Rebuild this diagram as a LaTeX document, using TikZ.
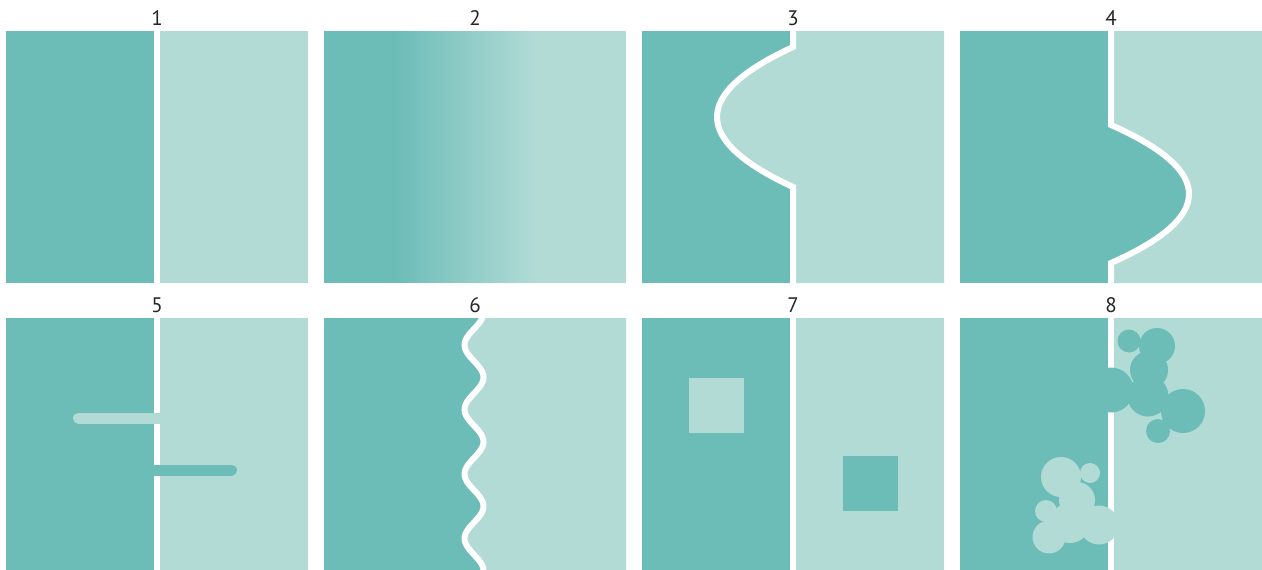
\documentclass[tikz,border=0pt]{standalone}
\usepackage{fontspec}
\setmainfont{PT Sans}
\definecolor{tdark}{RGB}{108,188,183}
\definecolor{tlight}{RGB}{178,219,214}
\tikzset{
  darkfill/.style={fill=tdark},
  lightfill/.style={fill=tlight},
  divider/.style={draw=white, line width=6pt},
  numlabel/.style={anchor=base, inner sep=0pt, font=\fontsize{21}{21}\selectfont, text=black!85}
}
\begin{document}
\begin{tikzpicture}[x=1pt,y=-1pt]
\useasboundingbox[fill=white] (0,0) rectangle (1262,570);

% labels
\node[numlabel] (l1) at (157,25) {1};
\node[numlabel] (l2) at (475,25) {2};
\node[numlabel] (l3) at (793,25) {3};
\node[numlabel] (l4) at (1111,25) {4};
\node[numlabel] (l5) at (157,312) {5};
\node[numlabel] (l6) at (475,312) {6};
\node[numlabel] (l7) at (793,312) {7};
\node[numlabel] (l8) at (1111,312) {8};

% ---------- Panel 1
\fill[darkfill] (6,31) rectangle (157,283);
\fill[lightfill] (157,31) rectangle (308,283);
\draw[divider] (157,31) -- (157,283);

% ---------- Panel 2 (gradient made of thin strips)
\fill[darkfill] (324,31) rectangle (395,283);
\fill[lightfill] (538,31) rectangle (626,283);
\foreach \i in {0,...,71} {
  \pgfmathsetmacro{\pct}{100-\i*100/71}
  \fill[tdark!\pct!tlight] ({394+\i*2},31) rectangle ({394+\i*2+2.6},283);
}

% ---------- Panel 3
\fill[darkfill] (642,31) rectangle (944,283);
\fill[lightfill] (793,31) -- (793,47) .. controls (691.7,93.7) and (691.7,140.3) .. (793,187)
  -- (793,283) -- (944,283) -- (944,31) -- cycle;
\draw[divider] (793,31) -- (793,47) .. controls (691.7,93.7) and (691.7,140.3) .. (793,187) -- (793,283);

% ---------- Panel 4
\fill[darkfill] (960,31) rectangle (1262,283);
\fill[lightfill] (1111,31) -- (1111,125) .. controls (1215,171) and (1215,217) .. (1111,263)
  -- (1111,283) -- (1262,283) -- (1262,31) -- cycle;
\draw[divider] (1111,31) -- (1111,125) .. controls (1215,171) and (1215,217) .. (1111,263) -- (1111,283);

% ---------- Panel 5
\fill[darkfill] (6,318) rectangle (157,570);
\fill[lightfill] (157,318) rectangle (308,570);
\draw[divider] (157,318) -- (157,570);
\draw[tlight, line width=11pt, line cap=round] (78.5,418) -- (150,418);
\fill[lightfill] (149,412.5) rectangle (160,423.5);
\draw[tdark, line width=11pt, line cap=round] (165,470) -- (231.5,470);
\fill[darkfill] (154,464.5) rectangle (166,475.5);

% ---------- Panel 6
\fill[darkfill] (324,318) rectangle (626,570);
\fill[lightfill] plot[domain=318:570, samples=150, variable=\t] ({474-9.5*cos(5.5814*(\t-345))}, {\t})
  -- (626,570) -- (626,318) -- cycle;
\begin{scope}
\clip (324,318) rectangle (626,570);
\draw[divider] plot[domain=315:573, samples=150, variable=\t] ({474-9.5*cos(5.5814*(\t-345))}, {\t});
\end{scope}

% ---------- Panel 7
\fill[darkfill] (642,318) rectangle (793,570);
\fill[lightfill] (793,318) rectangle (944,570);
\draw[divider] (793,318) -- (793,570);
\fill[lightfill] (689,378) rectangle (744,433);
\fill[darkfill] (843,456) rectangle (898,511);

% ---------- Panel 8
\fill[darkfill] (960,318) rectangle (1111,570);
\fill[lightfill] (1111,318) rectangle (1262,570);
\draw[divider] (1111,318) -- (1111,570);
% dark cluster
\fill[darkfill] (1129,341) circle[radius=11.5];
\fill[darkfill] (1157,346) circle[radius=18];
\fill[darkfill] (1149,370) circle[radius=19];
\fill[darkfill] (1111,390) circle[radius=22.5];
\fill[darkfill] (1148,396) circle[radius=20.5];
\fill[darkfill] (1183,411) circle[radius=22];
\fill[darkfill] (1158,431) circle[radius=12];
% light cluster
\fill[lightfill] (1061,477) circle[radius=20];
\fill[lightfill] (1090,473) circle[radius=10];
\fill[lightfill] (1077,500) circle[radius=18];
\fill[lightfill] (1046,511) circle[radius=11];
\fill[lightfill] (1070,523) circle[radius=20];
\fill[lightfill] (1049,537) circle[radius=16.5];
\fill[lightfill] (1099,525) circle[radius=19.5];
\end{tikzpicture}
\end{document}
